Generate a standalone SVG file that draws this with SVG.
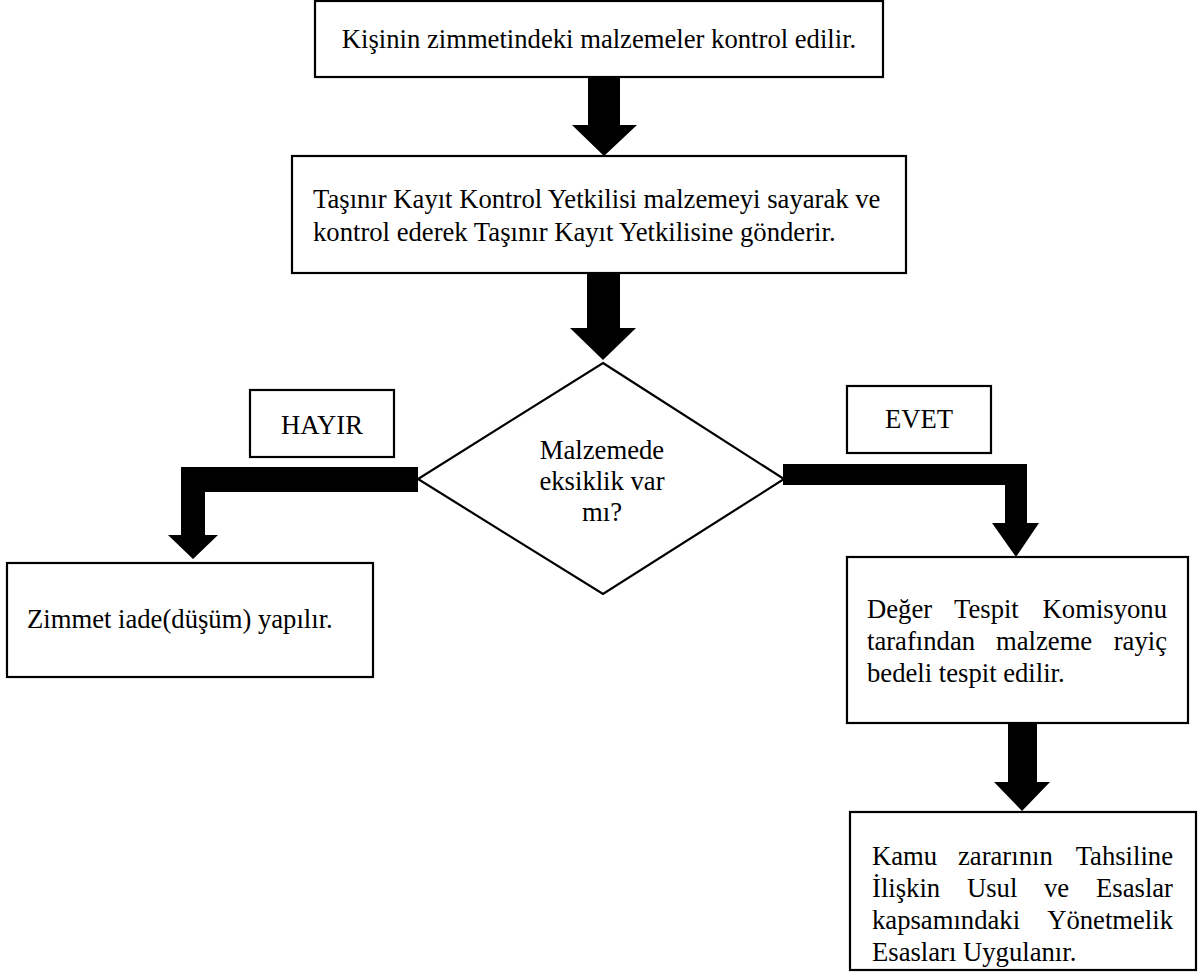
<svg xmlns="http://www.w3.org/2000/svg" width="1203" height="978" viewBox="0 0 1203 978">
<style>
.box{fill:#fff;stroke:#000;stroke-width:2.2}
.t{font-family:"Liberation Serif","Times New Roman",serif;font-size:26.67px;fill:#000}
.c{text-anchor:middle}
.e{text-anchor:end}
.arr{fill:#000;stroke:none}
</style>
<rect width="1203" height="978" fill="#fff"/>
<g id="connectors">
<polygon class="arr" points="588,77 620,77 620,125 637,125 604,156 572,125 588,125"/>
<polygon class="arr" points="587,273 620,273 620,328 636,328 603,360 570,328 587,328"/>
<polygon class="arr" points="418,467 418,492 205,492 205,535 218,535 193,559 168,535 181,535 181,467"/>
<polygon class="arr" points="783,464 1027,464 1027,523 1039,523 1016,557 992,523 1005,523 1005,485 783,485"/>
<polygon class="arr" points="1008,723 1037,723 1037,782 1050,782 1022,811 994,782 1008,782"/>
</g>
<g id="n1">
<rect class="box" x="315" y="1" width="568" height="76"/>
<text class="t c" x="599" y="48">Kişinin zimmetindeki malzemeler kontrol edilir.</text>
</g>
<g id="n2">
<rect class="box" x="292" y="156" width="614" height="117"/>
<text class="t" x="313" y="208">Taşınır Kayıt Kontrol Yetkilisi malzemeyi sayarak ve</text>
<text class="t" x="313" y="241">kontrol ederek Taşınır Kayıt Yetkilisine gönderir.</text>
</g>
<g id="decision">
<polygon class="box" points="603,363 784,479 603,594 418,479"/>
<text class="t c" x="602" y="459">Malzemede</text>
<text class="t c" x="602" y="490">eksiklik var</text>
<text class="t c" x="602" y="521">mı?</text>
</g>
<g id="hayir">
<rect class="box" x="250" y="390" width="144" height="67"/>
<text class="t c" x="322" y="434">HAYIR</text>
</g>
<g id="evet">
<rect class="box" x="847" y="386" width="144" height="67"/>
<text class="t c" x="919" y="428">EVET</text>
</g>
<g id="n3">
<rect class="box" x="7" y="563" width="366" height="114"/>
<text class="t" x="27" y="628">Zimmet iade(düşüm) yapılır.</text>
</g>
<g id="n4">
<rect class="box" x="847" y="557" width="341" height="166"/>
<text class="t" x="867" y="618">Değer</text>
<text class="t" x="954" y="618">Tespit</text>
<text class="t e" x="1167" y="618">Komisyonu</text>
<text class="t" x="867" y="650">tarafından</text>
<text class="t" x="996" y="650">malzeme</text>
<text class="t e" x="1167" y="650">rayiç</text>
<text class="t" x="867" y="682">bedeli tespit edilir.</text>
</g>
<g id="n5">
<rect class="box" x="850" y="812" width="346" height="158"/>
<text class="t" x="872" y="865">Kamu</text>
<text class="t" x="958" y="865">zararının</text>
<text class="t e" x="1173" y="865">Tahsiline</text>
<text class="t" x="872" y="897">İlişkin</text>
<text class="t" x="967" y="897">Usul</text>
<text class="t" x="1044" y="897">ve</text>
<text class="t e" x="1173" y="897">Esaslar</text>
<text class="t" x="872" y="929">kapsamındaki</text>
<text class="t e" x="1173" y="929">Yönetmelik</text>
<text class="t" x="872" y="961">Esasları Uygulanır.</text>
</g>
</svg>
